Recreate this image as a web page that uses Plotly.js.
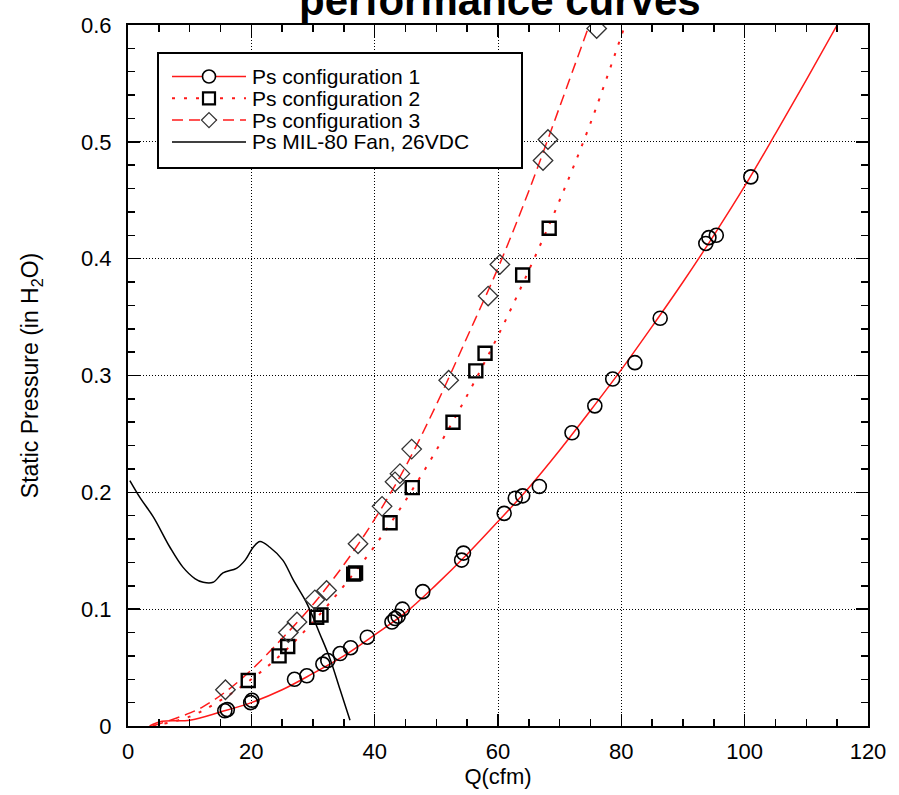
<!DOCTYPE html>
<html><head><meta charset="utf-8">
<script src="https://cdn.plot.ly/plotly-3.0.1.min.js"></script>
<style>html,body{margin:0;padding:0;background:#fff}#chart{width:899px;height:795px}</style>
</head><body><div id="chart"></div>
<script>
// ---- data ----
const seriesNames = ["Ps configuration 1", "Ps configuration 2", "Ps configuration 3", "Ps MIL-80 Fan, 26VDC"];

// measured points
const config1Q = [15.7, 16.1, 19.9, 20.1, 27.0, 29.0, 31.6, 32.4, 34.4, 36.1, 38.8, 42.8, 43.3, 43.8, 44.5, 47.8, 54.1, 54.4, 61.0, 62.8, 64.0, 66.7, 72.0, 75.7, 78.6, 82.2, 86.3, 93.7, 94.2, 95.4, 101.0];
const config1P = [0.013, 0.014, 0.020, 0.022, 0.040, 0.043, 0.053, 0.056, 0.062, 0.067, 0.076, 0.089, 0.092, 0.094, 0.100, 0.115, 0.142, 0.148, 0.182, 0.195, 0.197, 0.205, 0.251, 0.274, 0.297, 0.311, 0.349, 0.413, 0.418, 0.420, 0.470];

const config2Q = [19.5, 24.5, 25.9, 30.6, 31.3, 36.6, 36.9, 42.5, 46.1, 52.7, 56.4, 57.9, 64.0, 68.3];
const config2P = [0.039, 0.060, 0.068, 0.093, 0.095, 0.130, 0.131, 0.174, 0.204, 0.260, 0.304, 0.319, 0.386, 0.426];

const config3Q = [15.8, 26.0, 27.4, 30.3, 32.2, 37.3, 41.2, 43.3, 44.1, 46.0, 52.0, 58.4, 60.3, 67.3, 68.1, 76.0];
const config3P = [0.031, 0.080, 0.089, 0.108, 0.116, 0.156, 0.188, 0.209, 0.216, 0.237, 0.296, 0.368, 0.395, 0.484, 0.502, 0.597];

// fitted curves as drawn in the reference
const fit1Q = [3.5, 5.5, 10, 15, 20, 25, 30, 35, 40, 45, 50, 55, 60, 65, 70, 75, 80, 85, 90, 95, 100, 105, 110, 115];
const fit1P = [0.000, 0.004, 0.005, 0.012, 0.020, 0.031, 0.045, 0.060, 0.078, 0.097, 0.121, 0.147, 0.175, 0.204, 0.236, 0.270, 0.305, 0.342, 0.380, 0.420, 0.462, 0.507, 0.553, 0.600];

const fit2Q = [4, 10, 15, 20, 25, 30, 35, 40, 45, 50, 55, 60, 65, 70, 75, 80.6];
const fit2P = [0.000, 0.008, 0.022, 0.040, 0.062, 0.089, 0.120, 0.154, 0.193, 0.236, 0.283, 0.334, 0.390, 0.450, 0.516, 0.600];

const fit3Q = [4, 9, 12, 16, 20, 25, 30, 35, 40, 45, 50, 55, 60, 65, 70, 74.8];
const fit3P = [0.000, 0.009, 0.016, 0.030, 0.048, 0.075, 0.104, 0.138, 0.177, 0.222, 0.275, 0.333, 0.392, 0.458, 0.530, 0.600];

const fanQ = [0.3, 2.0, 4.1, 6.8, 8.9, 10.9, 12.2, 13.8, 15.4, 17.6, 19.0, 20.3, 21.4, 23.0, 25.1, 26.8, 29.0, 31.1, 32.8, 34.4, 36.0];
const fanP = [0.210, 0.195, 0.179, 0.153, 0.136, 0.126, 0.123, 0.123, 0.131, 0.135, 0.142, 0.153, 0.158, 0.153, 0.142, 0.125, 0.105, 0.079, 0.057, 0.031, 0.005];

const xTickVals = [0, 20, 40, 60, 80, 100, 120];
const yTickVals = [0, 0.1, 0.2, 0.3, 0.4, 0.5, 0.6];

// ---- styling ----
const FONT = "Liberation Sans, Arial, Helvetica, sans-serif";
const RED = "#ff1a1a";
const DOT = "3px,9px";
const DASH = "11px,6px";

const traces = [
  {x: fit1Q, y: fit1P, mode: "lines", line: {color: RED, width: 1.5, shape: "spline"}, name: seriesNames[0], showlegend: false, hoverinfo: "skip"},
  {x: fit2Q, y: fit2P, mode: "lines", line: {color: RED, width: 2, dash: DOT, shape: "spline"}, name: seriesNames[1], showlegend: false, hoverinfo: "skip"},
  {x: fit3Q, y: fit3P, mode: "lines", line: {color: RED, width: 1.5, dash: DASH, shape: "spline"}, name: seriesNames[2], showlegend: false, hoverinfo: "skip"},
  {x: fanQ, y: fanP, mode: "lines", line: {color: "#000", width: 1.5, shape: "spline"}, name: seriesNames[3], showlegend: false},
  {x: config1Q, y: config1P, mode: "markers", marker: {symbol: "circle-open", size: 14, color: "#000", line: {width: 1.6, color: "#000"}}, name: seriesNames[0], showlegend: false},
  {x: config2Q, y: config2P, mode: "markers", marker: {symbol: "square-open", size: 13, color: "#000", line: {width: 2.4, color: "#000"}}, name: seriesNames[1], showlegend: false},
  {x: config3Q, y: config3P, mode: "markers", marker: {symbol: "diamond-open", size: 15, color: "#333", line: {width: 1.3, color: "#333"}}, name: seriesNames[2], showlegend: false}
];

// legend drawn in paper coordinates
const L = 128, R = 868, T = 25, B = 726;
const px = v => (v - L) / (R - L);
const py = v => (B - v) / (B - T);
const rows = [76.5, 98.3, 120.1, 141.9];
const sx0 = 172, sx1 = 246, sxm = 209, tx = 250;

const shapes = [
  {type: "rect", xref: "paper", yref: "paper", x0: px(158), x1: px(522), y0: py(168), y1: py(53), line: {color: "#000", width: 2}, fillcolor: "#fff", layer: "above"},
  {type: "line", xref: "paper", yref: "paper", x0: px(sx0), x1: px(sx1), y0: py(rows[0]), y1: py(rows[0]), line: {color: RED, width: 1.5}, layer: "above"},
  {type: "line", xref: "paper", yref: "paper", x0: px(sx0), x1: px(sx1), y0: py(rows[1]), y1: py(rows[1]), line: {color: RED, width: 2, dash: DOT}, layer: "above"},
  {type: "line", xref: "paper", yref: "paper", x0: px(sx0), x1: px(sx1), y0: py(rows[2]), y1: py(rows[2]), line: {color: RED, width: 1.5, dash: DASH}, layer: "above"},
  {type: "line", xref: "paper", yref: "paper", x0: px(sx0), x1: px(sx1), y0: py(rows[3]), y1: py(rows[3]), line: {color: "#000", width: 1.5}, layer: "above"},
  {type: "circle", xref: "paper", yref: "paper", xsizemode: "pixel", ysizemode: "pixel", xanchor: px(sxm), yanchor: py(rows[0]), x0: -6.5, x1: 6.5, y0: -6.5, y1: 6.5, line: {color: "#000", width: 1.6}, fillcolor: "#fff", layer: "above"},
  {type: "rect", xref: "paper", yref: "paper", xsizemode: "pixel", ysizemode: "pixel", xanchor: px(sxm), yanchor: py(rows[1]), x0: -6, x1: 6, y0: -6, y1: 6, line: {color: "#000", width: 2.2}, fillcolor: "#fff", layer: "above"},
  {type: "path", xref: "paper", yref: "paper", xsizemode: "pixel", ysizemode: "pixel", xanchor: px(sxm), yanchor: py(rows[2]), path: "M0,7.5 L7.5,0 L0,-7.5 L-7.5,0 Z", line: {color: "#333", width: 1.3}, fillcolor: "#fff", layer: "above"}
];

const annotations = seriesNames.map((t, i) => ({
  text: t, xref: "paper", yref: "paper", x: px(tx), y: py(rows[i]), xanchor: "left", yanchor: "middle",
  showarrow: false, font: {family: FONT, size: 21, color: "#000"}
}));

const axisCommon = {
  ticks: "inside", ticklen: 12, tickwidth: 1.5, tickcolor: "#000",
  showline: true, linewidth: 2, linecolor: "#000", mirror: "ticks",
  showgrid: true, gridcolor: "#000", gridwidth: 1, griddash: "1px,2px",
  zeroline: false, tickfont: {family: FONT, size: 22, color: "#000"}
};

const layout = {
  width: 899, height: 795,
  margin: {l: L, r: 899 - R, t: T, b: 795 - B},
  paper_bgcolor: "#fff", plot_bgcolor: "#fff",
  font: {family: FONT, color: "#000"},
  title: {text: "performance curves", font: {family: FONT, size: 42, weight: "bold", color: "#000"}, x: 0.556, xanchor: "center", xref: "container", y: 1, yref: "container", yanchor: "middle"},
  xaxis: Object.assign({}, axisCommon, {
    range: [0, 120], tickvals: xTickVals, ticklabelstandoff: 5,
    minor: {dtick: 5, tick0: 0, ticks: "inside", ticklen: 7, tickwidth: 1.5, tickcolor: "#000", showgrid: false},
    title: {text: "Q(cfm)", font: {family: FONT, size: 22, color: "#000"}, standoff: 4}
  }),
  yaxis: Object.assign({}, axisCommon, {
    range: [0, 0.6], tickvals: yTickVals, ticklabelstandoff: 10,
    minor: {dtick: 0.02, tick0: 0, ticks: "inside", ticklen: 7, tickwidth: 1.5, tickcolor: "#000", showgrid: false},
    title: {text: "Static Pressure (in H<sub>2</sub>O)", font: {family: FONT, size: 23, color: "#000"}, standoff: 36}
  }),
  shapes: shapes,
  annotations: annotations,
  showlegend: false
};

Plotly.newPlot("chart", traces, layout, {staticPlot: true});
</script>
</body></html>
